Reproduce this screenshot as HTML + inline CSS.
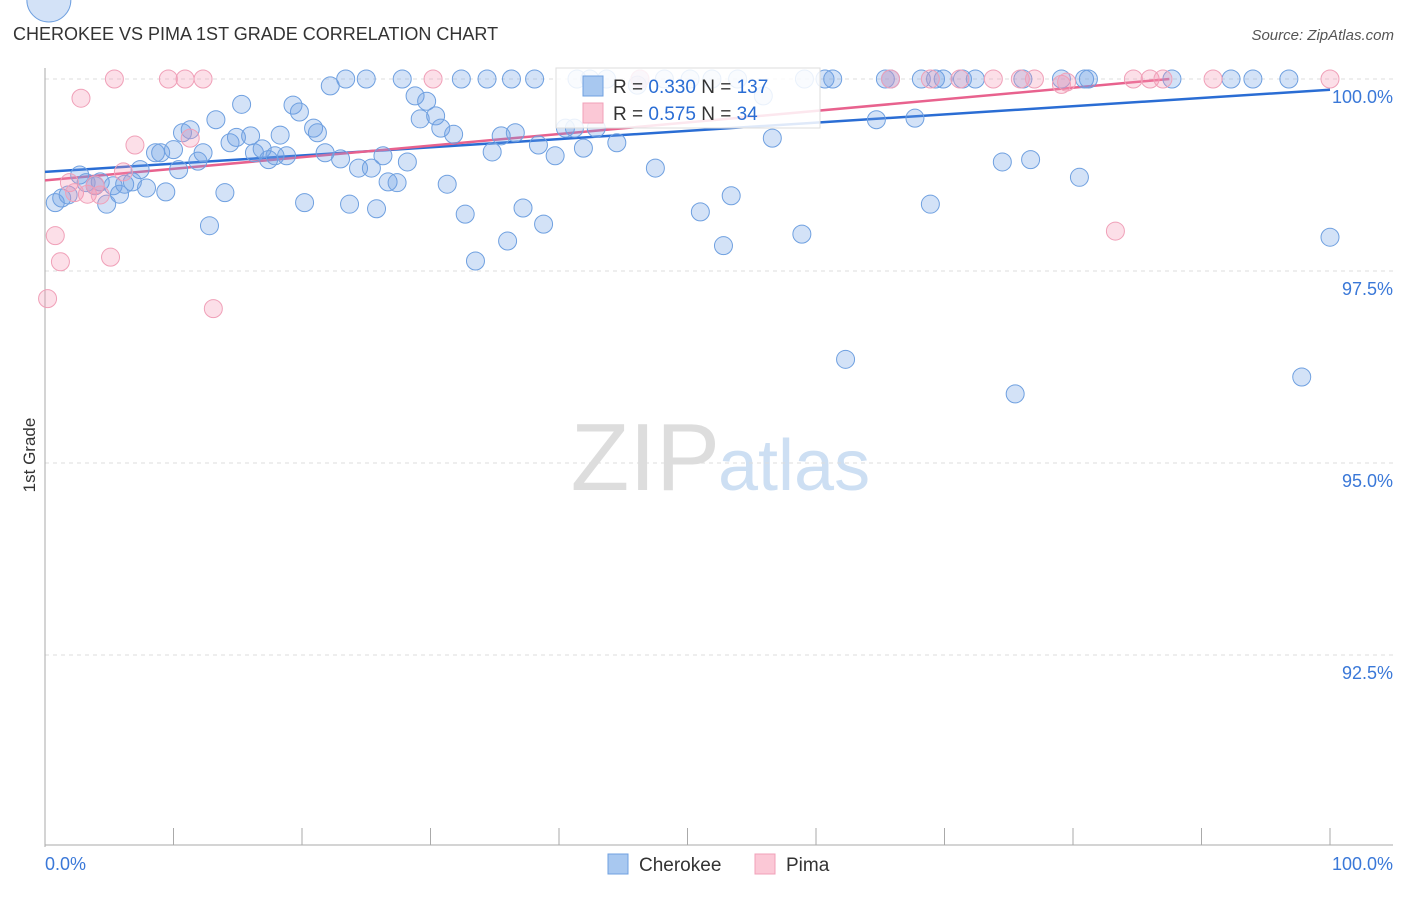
<!DOCTYPE html>
<html><head><meta charset="utf-8"><style>
body{margin:0;background:#fff;font-family:"Liberation Sans",sans-serif;}
svg text{font-family:"Liberation Sans",sans-serif;}
</style></head><body>
<svg id="chart" width="1406" height="892" viewBox="0 0 1406 892">
<text x="13" y="40" font-size="18" fill="#333">CHEROKEE VS PIMA 1ST GRADE CORRELATION CHART</text>
<text x="1394" y="40" font-size="15" fill="#555" text-anchor="end" font-style="italic">Source: ZipAtlas.com</text>
<text x="35" y="455" font-size="17" fill="#333" transform="rotate(-90 35 455)" text-anchor="middle">1st Grade</text>
<text x="720" y="490" font-size="96" fill="#ddd" text-anchor="end" font-family="Liberation Serif">ZIP</text>
<text x="718" y="490" font-size="72" fill="#cddff3">atlas</text>
<g id="grid"></g><g id="axes"></g><g id="trend"></g><g id="pts"></g>
<g>
<rect x="556" y="68" width="264" height="60" fill="#fff" fill-opacity="0.85" stroke="#ddd"/>
<rect x="583" y="76" width="20" height="20" fill="#a8c8f0" stroke="#6fa0e0"/>
<text x="613" y="93" font-size="19" fill="#333">R = <tspan fill="#2a6dd4">0.330</tspan>    N = <tspan fill="#2a6dd4">137</tspan></text>
<rect x="583" y="103" width="20" height="20" fill="#fbc8d6" stroke="#f0a0b8"/>
<text x="613" y="120" font-size="19" fill="#333">R = <tspan fill="#2a6dd4">0.575</tspan>    N =  <tspan fill="#2a6dd4"> 34</tspan></text>
</g>
<g>
<rect x="608" y="854" width="20" height="20" fill="#a8c8f0" stroke="#6fa0e0"/>
<text x="639" y="871" font-size="19" fill="#333">Cherokee</text>
<rect x="755" y="854" width="20" height="20" fill="#fbc8d6" stroke="#f0a0b8"/>
<text x="786" y="871" font-size="19" fill="#333">Pima</text>
</g>
</svg>
<script>
const yTicks=[100,97.5,95,92.5];
const yTickLabels=["100.0%","97.5%","95.0%","92.5%"];
const xTickLabels=["0.0%","100.0%"];
const blueX=[0.8,1.3,1.8,2.7,3.2,3.9,4.3,4.8,5.3,5.8,6.2,6.8,7.4,7.9,8.6,9.0,9.4,10.0,10.4,10.7,11.3,11.9,12.3,12.8,13.3,14.0,14.4,14.9,15.3,16.0,16.3,16.9,17.4,17.9,18.3,18.8,19.3,19.8,20.2,20.9,21.2,21.8,22.2,23.0,23.4,23.7,24.4,25.0,25.4,25.8,26.3,26.7,27.4,27.8,28.2,28.8,29.2,29.7,30.4,30.8,31.3,31.8,32.4,32.7,33.5,34.4,34.8,35.5,36.0,36.3,36.6,37.2,38.1,38.4,38.8,39.7,40.5,41.2,41.9,42.4,43.7,44.5,46.3,47.5,48.2,50.2,51.0,51.9,52.8,53.4,53.9,55.9,56.6,58.9,59.1,60.7,61.3,62.3,64.7,65.4,65.8,67.7,68.2,68.9,69.3,69.9,71.4,72.4,74.5,75.5,76.1,76.7,79.1,80.5,80.9,81.2,87.7,92.3,94.0,96.8,97.8,46.1,42.9,41.4,100,0.3];
const blueY=[98.39,98.45,98.49,98.75,98.65,98.61,98.66,98.37,98.61,98.50,98.63,98.66,98.82,98.58,99.04,99.04,98.53,99.08,98.82,99.30,99.34,98.93,99.04,98.09,99.47,98.52,99.17,99.24,99.67,99.26,99.04,99.09,98.95,99.00,99.27,99.00,99.66,99.57,98.39,99.36,99.30,99.04,99.91,98.96,100,98.37,98.84,100,98.84,98.31,99.00,98.66,98.65,100,98.92,99.78,99.48,99.71,99.52,99.36,98.63,99.28,100,98.24,97.63,100,99.05,99.26,97.89,100,99.30,98.32,100,99.14,98.11,99.00,99.36,99.36,99.10,100,100,99.17,100,98.84,100,100,98.27,100,97.83,98.48,100,99.78,99.23,97.98,100,100,100,96.35,99.47,100,100,99.49,100,98.37,100,100,100,100,98.92,95.90,100,98.95,100,98.72,100,100,100,100,100,100,96.12,99.92,99.36,100,97.94];
const pinkX=[0.2,0.8,1.2,1.9,2.3,2.8,3.3,3.9,4.3,5.1,5.4,6.1,7.0,9.6,10.9,11.3,12.3,13.1,30.2,46.3,65.8,68.9,71.2,73.8,75.9,77.0,79.1,79.5,83.3,84.7,86.0,87.0,90.9,100];
const pinkY=[97.14,97.96,97.62,98.65,98.52,99.75,98.50,98.62,98.49,97.68,100,98.79,99.14,100,100,99.23,100,97.01,100,100,100,100,100,100,100,100,99.93,99.96,98.02,100,100,100,100,100];
const blueTrendX=[0,100], blueTrendY=[98.79,99.86];
const pinkTrendX=[0,87.5], pinkTrendY=[98.68,100.0];
const NS="http://www.w3.org/2000/svg";
const X0=45,X1=1330,Y0=847,Y1=79,YMIN=90,YMAX=100;
function sx(v){return X0+(v/100)*(X1-X0);}
function sy(v){return Y0-(v-YMIN)/(YMAX-YMIN)*(Y0-Y1);}
function mk(t,a,p){const e=document.createElementNS(NS,t);for(const k in a)e.setAttribute(k,a[k]);p.appendChild(e);return e;}
const grid=document.getElementById('grid'),axes=document.getElementById('axes');
yTicks.forEach((t,i)=>{
 const l=mk('line',{x1:45,x2:1393,y1:sy(t),y2:sy(t),stroke:'#ddd','stroke-dasharray':'4,4'},grid);
 
 
 const tx=mk('text',{x:1393,y:sy(t)+24,'font-size':18,fill:'#3a78d8','text-anchor':'end'},axes);
 tx.textContent=yTickLabels[i];
 
 
});
const ya=mk('line',{x1:45,x2:45,y1:68,y2:847,stroke:'#aaa'},axes);


const xa=mk('line',{x1:45,x2:1393,y1:845,y2:845,stroke:'#aaa'},axes);


for(let i=0;i<=10;i++){
 const t=mk('line',{x1:sx(i*10),x2:sx(i*10),y1:828,y2:845,stroke:'#aaa'},axes);
 
 
}
[[0,'start'],[100,'end']].forEach((p,i)=>{
 const t=mk('text',{x:i?1393:45,y:870,'font-size':18,fill:'#3a78d8','text-anchor':p[1]},axes);
 t.textContent=xTickLabels[i];
 
 
});
const pts=document.getElementById('pts');
blueX.forEach((x,i)=>{
 const r=(i===blueX.length-1)?22:9;
 const c=mk('circle',{cx:sx(x),cy:sy(blueY[i]),r:r,fill:'rgba(110,160,230,0.3)',stroke:'#6fa0e0','stroke-width':1},pts);
 
 
});
pinkX.forEach((x,i)=>{
 const c=mk('circle',{cx:sx(x),cy:sy(pinkY[i]),r:9,fill:'rgba(245,150,180,0.3)',stroke:'#f0a0b8','stroke-width':1},pts);
 
 
});
const tr=document.getElementById('trend');
const bl=mk('line',{x1:sx(blueTrendX[0]),y1:sy(blueTrendY[0]),x2:sx(blueTrendX[1]),y2:sy(blueTrendY[1]),stroke:'#2a6dd4','stroke-width':2.5},tr);


const pl=mk('line',{x1:sx(pinkTrendX[0]),y1:sy(pinkTrendY[0]),x2:sx(pinkTrendX[1]),y2:sy(pinkTrendY[1]),stroke:'#e8628e','stroke-width':2.5},tr);


</script>
</body></html>
